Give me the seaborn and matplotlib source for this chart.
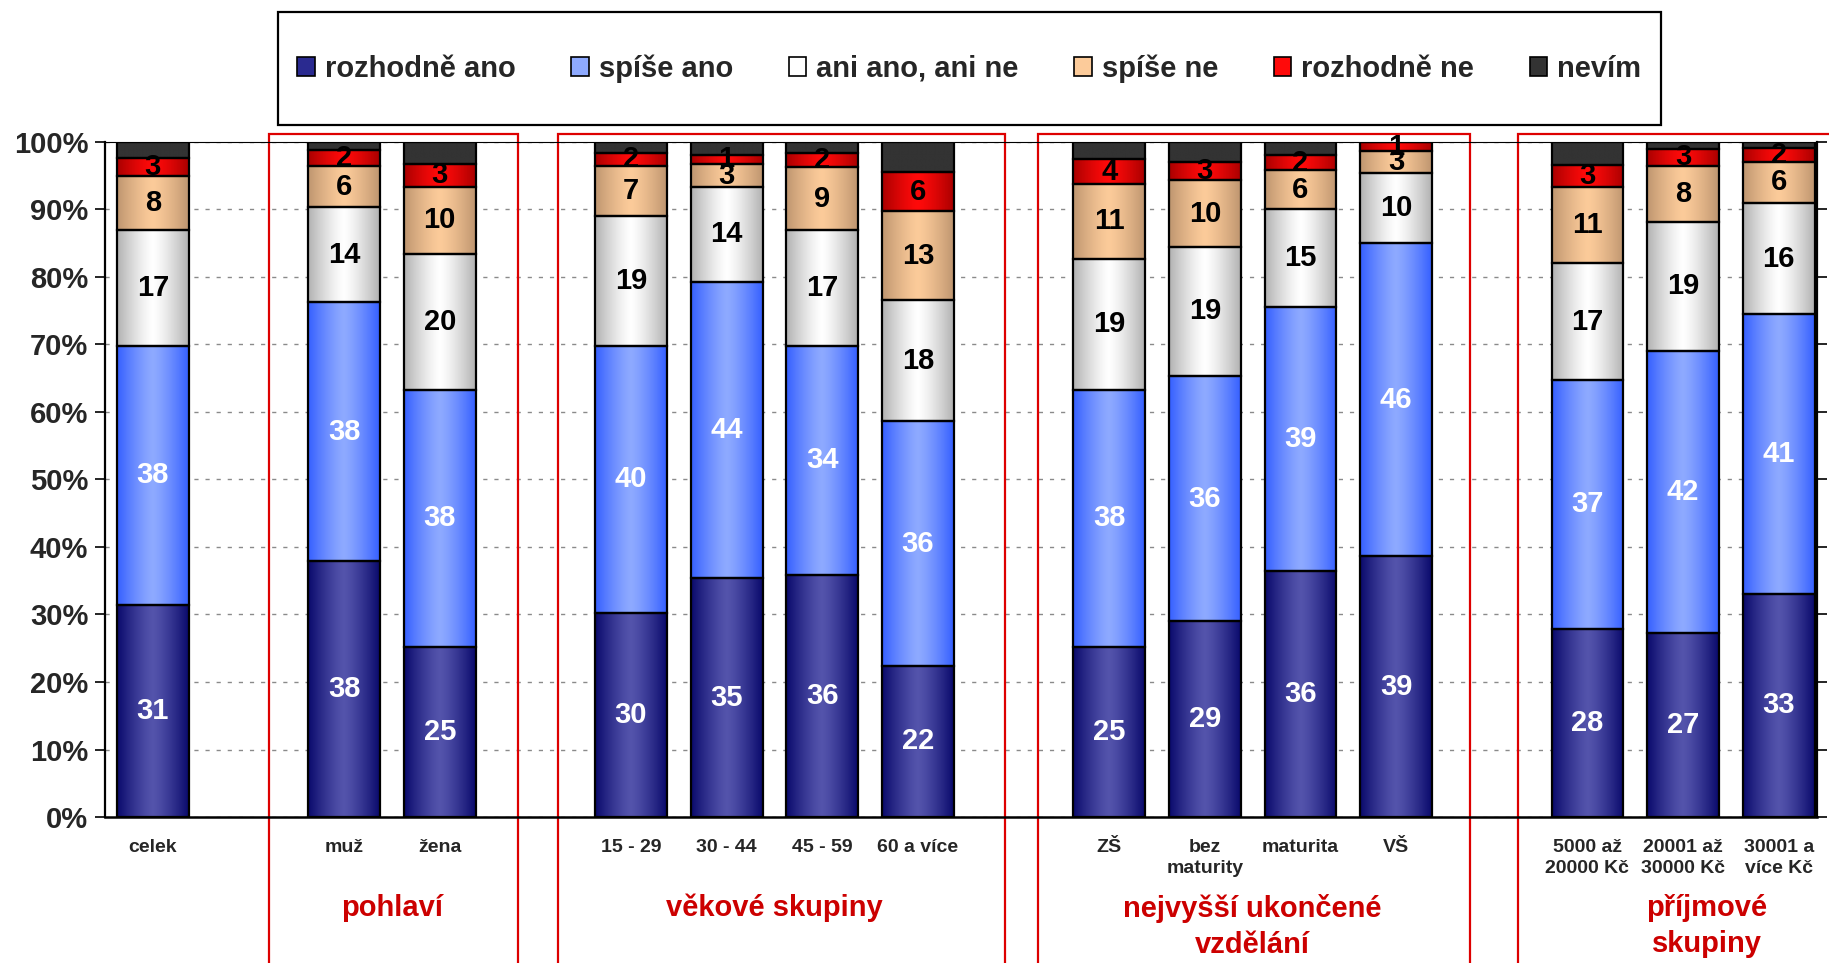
import numpy as np
import pandas as pd
import seaborn as sns
import matplotlib.pyplot as plt
from matplotlib.patches import Patch, Rectangle

# categories (slot index on the x axis, empty slots are the gaps between groups)
categories = ['celek', 'muž', 'žena', '15 - 29', '30 - 44', '45 - 59', '60 a více',
              'ZŠ', 'bez\nmaturity', 'maturita', 'VŠ',
              '5000 až\n20000 Kč', '20001 až\n30000 Kč', '30001 a\nvíce Kč']
slots = [0, 2, 3, 5, 6, 7, 8, 10, 11, 12, 13, 15, 16, 17]

answers = ['rozhodně ano', 'spíše ano', 'ani ano, ani ne', 'spíše ne', 'rozhodně ne', 'nevím']

rozhodne_ano = [31.4, 37.9, 25.2, 30.2, 35.4, 35.9, 22.4, 25.2, 29.0, 36.4, 38.6, 27.9, 27.2, 33.1]
spise_ano    = [38.4, 38.4, 38.1, 39.6, 43.9, 33.9, 36.2, 38.1, 36.3, 39.1, 46.4, 36.8, 41.9, 41.4]
ani_ani      = [17.1, 14.0, 20.1, 19.3, 14.0, 17.1, 18.0, 19.4, 19.2, 14.6, 10.4, 17.4, 19.0, 16.4]
spise_ne     = [8.1, 6.1, 10.0, 7.3, 3.4, 9.4, 13.1, 11.1, 9.8, 5.7, 3.2, 11.2, 8.3, 6.2]
rozhodne_ne  = [2.6, 2.4, 3.3, 2.0, 1.4, 2.0, 5.8, 3.6, 2.8, 2.2, 1.4, 3.3, 2.6, 2.0]
nevim        = [2.4, 1.2, 3.3, 1.6, 1.9, 1.7, 4.5, 2.6, 2.9, 2.0, 0.0, 3.4, 1.0, 0.9]

groups = ['pohlaví', 'věkové skupiny', 'nejvyšší ukončené\nvzdělání', 'příjmové\nskupiny']
group_centers = [2.5, 6.5, 11.5, 16.25]
group_boxes = [(1.22, 3.82), (4.24, 8.91), (9.26, 13.77), (14.27, 18.6)]

layers = [rozhodne_ano, spise_ano, ani_ani, spise_ne, rozhodne_ne, nevim]
# (centre colour, edge colour) of the horizontal gradient
shades = [('#5454ac', '#0a0a6c'), ('#8eaaff', '#3660ff'), ('#ffffff', '#b2b2b2'),
          ('#fccb9a', '#bf9670'), ('#ff0a0a', '#aa0000'), ('#333333', '#333333')]
label_colors = ['white', 'white', 'black', 'black', 'black', None]

sns.set_theme(style='white')
plt.rcParams['font.family'] = ['Liberation Sans Narrow', 'Liberation Sans', 'DejaVu Sans']
plt.rcParams['font.weight'] = 'bold'

fig = plt.figure(figsize=(18.29, 9.63), dpi=100)
ax = fig.add_axes([0.0574, 0.1516, 0.936, 0.701])

df = pd.DataFrame({'slot': slots})
bottom = np.zeros(len(slots))
for vals, (mid, edge) in zip(layers, shades):
    n0 = len(ax.patches)
    sns.barplot(x=df['slot'], y=vals, native_scale=True, bottom=bottom, width=0.75,
                color=mid, edgecolor='black', linewidth=1.6, errorbar=None,
                saturation=1, ax=ax, zorder=3)
    new = ax.patches[n0:]
    # horizontal gradient, dark at the sides, light in the middle
    t = np.abs(np.linspace(-1, 1, 80)) ** 1.3
    c_mid = np.array(plt.matplotlib.colors.to_rgb(mid))
    c_edge = np.array(plt.matplotlib.colors.to_rgb(edge))
    img = (np.outer(1 - t, c_mid) + np.outer(t, c_edge))[np.newaxis, :, :]
    for p in new:
        if p.get_height() <= 0:
            continue
        x0, y0, w, h = p.get_x(), p.get_y(), p.get_width(), p.get_height()
        im = ax.imshow(img, extent=(x0, x0 + w, y0, y0 + h), aspect='auto',
                       interpolation='bilinear', zorder=2)
        im.set_clip_path(p)
        p.set_facecolor('none')
    bottom = bottom + np.array(vals)

# segment labels
bottom = np.zeros(len(slots))
for vals, col in zip(layers, label_colors):
    for s, b, v in zip(slots, bottom, vals):
        if col is not None and v > 0:
            ax.text(s, b + v / 2, f'{round(v):d}', ha='center', va='center', color=col,
                    fontsize=21, fontweight='bold', family=['Liberation Sans', 'DejaVu Sans'],
                    zorder=5)
    bottom = bottom + np.array(vals)

ax.set_xlim(-0.49, 17.40)
ax.set_ylim(0, 100)
ax.set_xlabel('')
ax.set_ylabel('')
ax.set_xticks(slots, categories, fontsize=14, fontweight='bold', linespacing=1.3)
ax.set_xticks(np.arange(-0.5, 17.5, 1), minor=True)
ax.tick_params(axis='x', which='major', length=0, pad=16)
ax.tick_params(axis='x', which='minor', length=7, width=1.2, color='black', direction='out')
ax.set_yticks(np.arange(0, 101, 10), [f'{v}%' for v in range(0, 101, 10)],
              fontsize=21, fontweight='bold')
ax.tick_params(axis='y', length=7, width=1.2, color='black', direction='out', pad=5,
               left=True, right=True, labelright=False)
ax.yaxis.grid(True, linestyle=(0, (3, 5)), color='#8a8a8a', linewidth=1.0, zorder=0)
ax.set_axisbelow(True)
for side in ['left', 'bottom', 'right', 'top']:
    ax.spines[side].set_visible(True)
    ax.spines[side].set_color('black')
ax.spines['left'].set_linewidth(1.6)
ax.spines['bottom'].set_linewidth(1.8)
ax.spines['right'].set_linewidth(1.6)
ax.spines['top'].set_linewidth(0.8)

# red frames around the groups and their names
for (a, b), name, c in zip(group_boxes, groups, group_centers):
    ax.add_patch(Rectangle((a, -40), b - a, 141.2, fill=False, edgecolor='#dd0000',
                           linewidth=1.6, clip_on=False, zorder=1))
    ax.text(c, -11.4, name, ha='center', va='top', color='#cc0000', fontsize=21,
            fontweight='bold', linespacing=1.35)

# legend
fig.patches.append(Rectangle((0.152, 0.870), 0.756, 0.1175, transform=fig.transFigure,
                             fill=False, edgecolor='black', linewidth=1.6))
handles = [Patch(facecolor=m, edgecolor='black', linewidth=1.2) for m, e in shades]
handles[0].set_facecolor('#2a2a90')
fig.legend(handles, answers, loc='center', bbox_to_anchor=(0.530, 0.929), ncol=6,
           frameon=False, handlelength=0.6, handleheight=0.6,
           handletextpad=0.35, columnspacing=1.9, prop={'weight': 'bold', 'size': 21})

fig.savefig('out.png', dpi=100)
